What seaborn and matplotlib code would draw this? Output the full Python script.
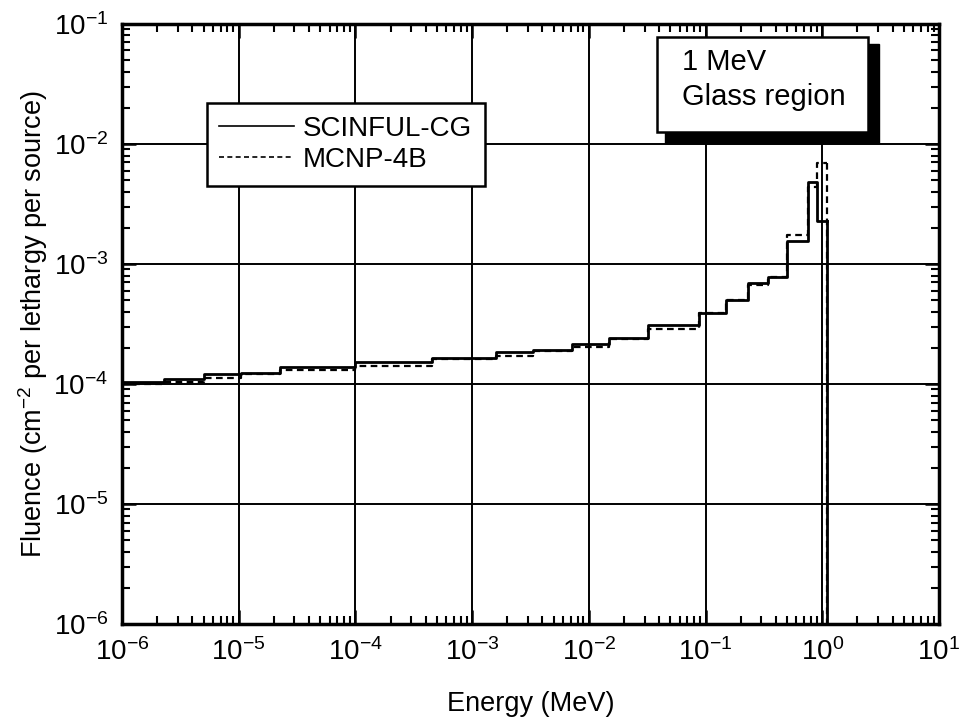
import numpy as np
import pandas as pd
import matplotlib
matplotlib.use("Agg")
import matplotlib.pyplot as plt
import seaborn as sns
from matplotlib.lines import Line2D
from matplotlib.patches import Rectangle

# ---- data ----
energy_edges = [1e-6, 2.3e-6, 5e-6, 1.05e-5, 2.25e-5, 1e-4, 4.5e-4, 1.6e-3,
                3.3e-3, 7.2e-3, 1.5e-2, 3.2e-2, 8.8e-2, 0.15, 0.23, 0.34,
                0.5, 0.75, 0.9, 1.1]
scinful_cg = [1.04e-4, 1.10e-4, 1.21e-4, 1.24e-4, 1.38e-4, 1.52e-4, 1.65e-4,
              1.85e-4, 1.92e-4, 2.15e-4, 2.42e-4, 3.10e-4, 3.91e-4, 5.0e-4,
              6.95e-4, 7.8e-4, 1.56e-3, 4.82e-3, 2.28e-3]
mcnp_4b = [1.0e-4, 1.04e-4, 1.12e-4, 1.21e-4, 1.31e-4, 1.41e-4, 1.62e-4,
           1.71e-4, 1.88e-4, 2.03e-4, 2.37e-4, 2.87e-4, 3.91e-4, 5.0e-4,
           6.68e-4, 7.8e-4, 1.75e-3, 4.38e-3, 6.95e-3]
series_labels = ["SCINFUL-CG", "MCNP-4B"]
x_label = "Energy (MeV)"
y_label = "Fluence (cm$^{-2}$ per lethargy per source)"
box_text = "1 MeV\nGlass region"

plt.rcParams["font.family"] = ["Liberation Sans", "DejaVu Sans"]
plt.rcParams["mathtext.fontset"] = "custom"
plt.rcParams["mathtext.rm"] = "Liberation Sans"
plt.rcParams["mathtext.it"] = "Liberation Sans"
plt.rcParams["mathtext.bf"] = "Liberation Sans"
plt.rcParams["axes.unicode_minus"] = False

fig = plt.figure(figsize=(9.65, 7.23), dpi=100)
ax = fig.add_axes([0.1264, 0.137, 0.8466, 0.830])
ax.set_xscale("log")
ax.set_yscale("log")
xlim = (1e-6, 10)
ylim = (1e-6, 1e-1)
ax.set_xlim(*xlim)
ax.set_ylim(*ylim)

df_s = pd.DataFrame({"E": energy_edges, "F": scinful_cg + [scinful_cg[-1]]})
df_m = pd.DataFrame({"E": energy_edges, "F": mcnp_4b + [mcnp_4b[-1]]})

sns.lineplot(data=df_m, x="E", y="F", drawstyle="steps-post", color="black",
             lw=1.6, linestyle=(0, (3, 2)), estimator=None, sort=False, ax=ax)
sns.lineplot(data=df_s, x="E", y="F", drawstyle="steps-post", color="black",
             lw=2.0, estimator=None, sort=False, ax=ax)
ax.plot([energy_edges[-1]] * 2, [mcnp_4b[-1], ylim[0]], color="black", lw=1.6,
        linestyle=(0, (3, 2)))
ax.plot([energy_edges[-1]] * 2, [scinful_cg[-1], ylim[0]], color="black", lw=2.0)

ax.grid(True, which="major", color="black", lw=1.4)
for s in ax.spines.values():
    s.set_linewidth(2.5)
ax.tick_params(which="both", direction="in", top=True, right=True,
               labelsize=20, pad=10, width=1.8)
ax.tick_params(which="major", length=10)
ax.tick_params(which="minor", length=6, width=1.5)
ax.set_xlabel(x_label, fontsize=19.5, labelpad=18)
ax.set_ylabel(y_label, fontsize=19.5, labelpad=2)

handles = [Line2D([], [], color="black", lw=1.2),
           Line2D([], [], color="black", lw=1.2, linestyle=(0, (3, 2)))]
leg = ax.legend(handles, series_labels, loc="upper left",
                bbox_to_anchor=(0.104, 0.868), fontsize=20, frameon=True,
                fancybox=False, framealpha=1, edgecolor="black",
                handlelength=2.7, handletextpad=0.3, borderpad=0.45,
                labelspacing=0.2, borderaxespad=0)
leg.get_frame().set_linewidth(1.8)

# text box with shadow (figure pixel coordinates from top-left)
W, H = 965, 723
def frect(x0, y0, x1, y1, **kw):
    return Rectangle((x0 / W, 1 - y1 / H), (x1 - x0) / W, (y1 - y0) / H,
                     transform=fig.transFigure, **kw)
fig.patches.append(frect(665, 44, 879, 143, facecolor="black", edgecolor="black", zorder=5))
fig.patches.append(frect(657, 37, 868, 132, facecolor="white", edgecolor="black", lw=1.8, zorder=6))
fig.text(682 / W, 1 - 48 / H, box_text, fontsize=21, va="top", ha="left",
         linespacing=1.3, zorder=7)

fig.savefig("out.png", dpi=100)
